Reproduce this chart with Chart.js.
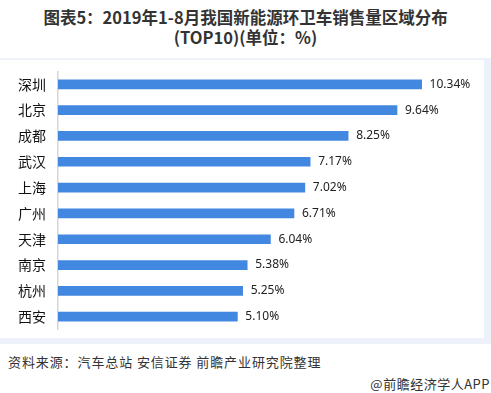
<!DOCTYPE html>
<html>
<head>
<meta charset="utf-8">
<script src="https://cdn.jsdelivr.net/npm/chart.js@4/dist/chart.umd.min.js"></script>
<style>
  body { margin: 0; background: #fff; }
  #wrap { position: relative; width: 491px; height: 393px; overflow: hidden; font-family: "Noto Sans CJK SC", "Noto Sans", sans-serif; }
  #title { position: absolute; left: 0; top: 7px; width: 491px; text-align: center; font-weight: bold; font-size: 16.5px; line-height: 20px; color: #333; }
  #panel { position: absolute; left: 0; top: 58px; width: 491px; height: 286px; background: #edf2fa; }
  #inner { position: absolute; left: 0; top: 2px; width: 484px; height: 278px; background: #fff; }
  #chartBox { position: absolute; left: 0; top: 51px; width: 491px; height: 299px; }
  #chartBox canvas { display: block; }
  #source { position: absolute; left: 8px; top: 352px; font-size: 13px; color: #333; letter-spacing: 0.9px; }
  #brand { position: absolute; right: 1px; top: 374px; font-size: 13px; color: #333; letter-spacing: 0.5px; }
</style>
</head>
<body>
<div id="wrap">
  <div id="title">图表5：2019年1-8月我国新能源环卫车销售量区域分布<br>(TOP10)(单位：%)</div>
  <div id="panel"><div id="inner"></div></div>
  <div id="chartBox"><canvas id="chart" width="491" height="299"></canvas></div>
  <div id="source">资料来源：汽车总站 安信证券 前瞻产业研究院整理</div>
  <div id="brand">@前瞻经济学人APP</div>
</div>
<script>
const cities = ['深圳', '北京', '成都', '武汉', '上海', '广州', '天津', '南京', '杭州', '西安'];
const shares = [10.34, 9.64, 8.25, 7.17, 7.02, 6.71, 6.04, 5.38, 5.25, 5.10];

// value labels at the end of each bar
const valueLabels = {
    id: 'valueLabels',
    afterDatasetsDraw(chart) {
        const ctx = chart.ctx;
        const meta = chart.getDatasetMeta(0);
        ctx.save();
        ctx.font = '12px "Noto Sans", sans-serif';
        ctx.fillStyle = '#222';
        ctx.textAlign = 'left';
        ctx.textBaseline = 'middle';
        meta.data.forEach((bar, i) => {
            ctx.fillText(shares[i].toFixed(2) + '%', bar.x + 8, bar.y);
        });
        ctx.restore();
    }
};

const ctx = document.getElementById('chart').getContext('2d');
new Chart(ctx, {
    type: 'bar',
    data: {
        labels: cities,
        datasets: [{
            data: shares,
            backgroundColor: '#4287e0',
            barThickness: 9
        }]
    },
    options: {
        indexAxis: 'y',
        responsive: false,
        animation: false,
        layout: { padding: { top: 6, bottom: 8, left: 0, right: 11 } },
        plugins: {
            legend: { display: false },
            tooltip: { enabled: false }
        },
        scales: {
            x: { display: false, min: 0, max: 12 },
            y: {
                grid: { display: false, drawTicks: false },
                border: { display: true, color: '#d6d6d6', width: 1.5 },
                ticks: {
                    padding: 12,
                    color: '#111',
                    font: { family: '"Noto Sans CJK SC"', size: 14 }
                },
                afterFit(scale) { scale.width = 58; }
            }
        }
    },
    plugins: [valueLabels]
});
</script>
</body>
</html>
